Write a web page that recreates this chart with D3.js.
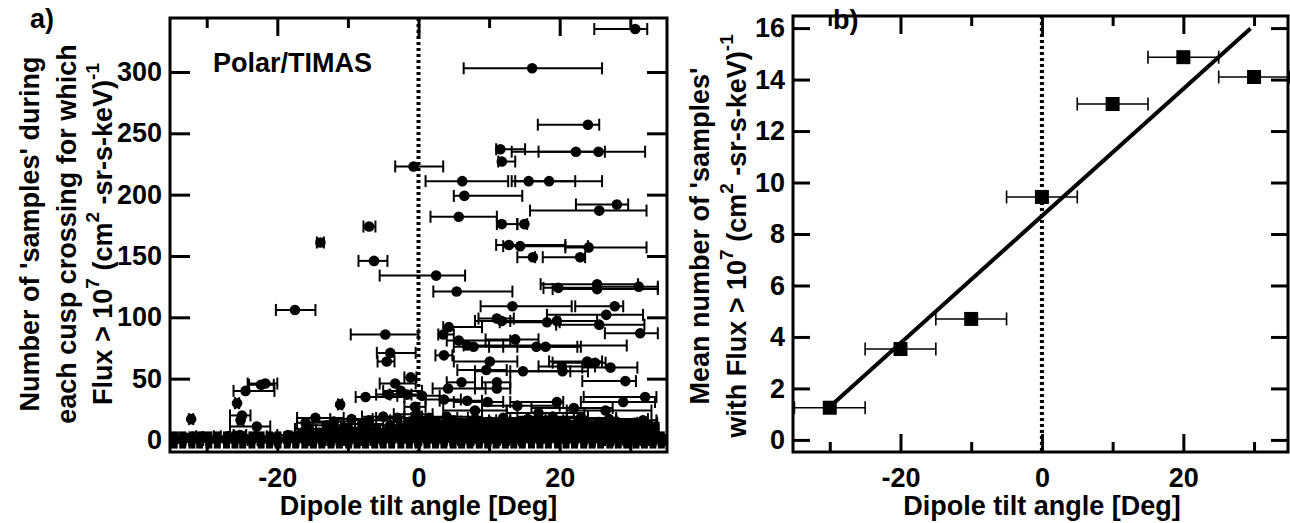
<!DOCTYPE html>
<html>
<head>
<meta charset="utf-8">
<script src="https://cdn.jsdelivr.net/npm/d3@7"></script>
<style>
  body { margin: 0; background: #fff; }
  svg text { font-family: "Liberation Sans", Arial, Helvetica, sans-serif; font-weight: bold; fill: #000; }
</style>
</head>
<body>
<svg id="chart" width="1290" height="523"></svg>
<script>
/* * * * * * * * * * * * * * * * * * * * * *
*   Cusp crossings vs dipole tilt (a, b)   *
* * * * * * * * * * * * * * * * * * * * * */

// panel a: one row per cusp crossing -> [tilt, samples, tiltMin, tiltMax]
const upperCrossings = [
    [30.7, 335, 24.9, 32.4], [16.1, 303, 6.4, 26.0], [24.0, 257, 16.9, 25.6],
    [11.6, 237, 11.0, 15.1], [22.3, 235, 13.2, 26.4], [25.5, 235, 17.0, 32.1],
    [11.8, 227, 11.3, 13.7], [-0.7, 223, -3.3, 3.5], [6.2, 211, 1.0, 12.7],
    [15.6, 211, 13.2, 22.2], [18.5, 211, 13.7, 26.0], [6.5, 199, 5.0, 14.7],
    [28.1, 192, 22.3, 29.7], [25.6, 187, 15.8, 32.3], [5.7, 182, 1.7, 11.1],
    [11.8, 176, 11.1, 14.0], [15.0, 176, 14.0, 15.4], [-7.0, 174, -7.8, -6.1],
    [-13.9, 161, -14.4, -13.4], [12.8, 159, 11.0, 20.8], [14.4, 158, 12.0, 24.0],
    [24.1, 157, 20.8, 32.3], [16.2, 149, 14.0, 16.5], [22.9, 149, 17.6, 23.6],
    [-6.3, 146, -8.5, -4.4], [2.5, 134, -5.5, 6.6], [19.8, 124, 17.7, 25.3],
    [25.3, 127, 17.3, 31.1], [25.3, 123, 19.0, 33.9], [31.2, 125, 25.0, 33.9],
    [5.4, 121, 2.1, 13.3], [-17.5, 106, -20.2, -14.6], [13.3, 109, 8.8, 21.7],
    [27.8, 109, 22.2, 29.0], [26.6, 102, 18.2, 31.8]
];

const midCrossings = [
    [11.8, 97, 8.0, 19.5], [18.2, 96, 11.5, 20.0], [19.6, 97, 13.0, 25.3],
    [25.6, 94, 19.5, 32.0], [11.1, 99, 8.5, 13.5], [4.3, 92, 3.5, 9.0],
    [31.4, 87, 26.4, 33.9], [-4.7, 86, -9.6, 0.0], [3.5, 86, 2.8, 5.0],
    [5.7, 81, 4.0, 13.0], [13.7, 82, 9.5, 17.0], [6.9, 77, 6.4, 29.5],
    [7.8, 76, 5.0, 12.0], [16.7, 76, 10.0, 23.0], [18.0, 76, 14.0, 22.5],
    [-4.0, 71, -5.9, -0.4], [3.6, 69, 2.4, 4.8], [-4.5, 64, -5.8, -3.4],
    [10.1, 64, 5.0, 14.0], [23.9, 64, 18.5, 26.0], [25.0, 63, 19.0, 26.5],
    [20.3, 60, 17.0, 25.0], [27.2, 59, 23.2, 31.0], [9.6, 57, 5.5, 12.5],
    [14.8, 56, 8.0, 24.0], [20.4, 56, 13.0, 21.5], [-1.1, 51, -2.0, -0.3],
    [29.3, 48, 23.2, 30.8], [11.1, 47, 9.0, 13.0], [6.1, 47, 4.0, 8.0],
    [-21.7, 46, -24.2, -20.0], [-22.3, 45, -24.0, -20.5], [-3.3, 46, -5.5, -0.4],
    [4.2, 42, 2.0, 9.5], [11.1, 42, 8.0, 13.0], [-24.5, 40, -26.2, -20.4],
    [-2.5, 40, -5.0, 0.5], [-7.5, 35, -8.9, -2.0], [-4.2, 37, -6.0, -1.0],
    [-1.6, 37, -4.0, 0.5], [32.1, 35, 23.4, 33.7], [0.5, 36, -3.0, 3.0],
    [-25.7, 30, -26.0, -25.4], [-11.1, 29, -11.4, -10.8], [29.0, 31, 23.0, 33.5],
    [19.6, 31, 13.0, 20.5], [9.8, 31, 5.0, 12.0], [6.9, 32, 3.0, 9.0],
    [3.6, 33, 1.0, 6.0], [-0.5, 27, -2.0, 1.0], [-25.0, 20, -26.7, -23.8],
    [-25.2, 16, -25.6, -24.8], [-32.2, 17, -32.5, -31.9], [-22.9, 11, -26.7, -21.0],
    [-14.6, 18, -17.2, -10.6], [14.0, 28, 9.0, 20.0], [22.0, 26, 16.0, 27.5],
    [26.5, 24, 21.0, 33.0], [17.0, 22, 12.5, 23.5], [8.0, 24, 3.5, 12.5]
];

// the crowded band near zero samples
const lowCrossings = [
    [0.6, 3, -2.0, 4.5], [1.9, 2, -1.0, 6.0], [3.1, 4, 0.0, 7.5], [4.4, 2, 1.0, 9.0],
    [5.8, 3, 2.5, 10.5], [7.0, 2, 3.0, 12.0], [8.3, 4, 4.5, 13.5], [9.5, 2, 5.0, 15.0],
    [10.9, 3, 6.5, 16.0], [12.2, 2, 8.0, 17.5], [13.4, 4, 9.0, 19.0], [14.8, 2, 10.5, 20.0],
    [16.0, 3, 11.5, 21.5], [17.3, 2, 13.0, 22.5], [18.6, 4, 14.0, 24.0], [19.9, 2, 15.5, 25.5],
    [21.2, 3, 16.5, 27.0], [22.4, 2, 18.0, 28.0], [23.8, 4, 19.0, 29.5], [25.1, 2, 20.5, 31.0],
    [26.3, 3, 21.5, 32.0], [27.6, 2, 23.0, 33.0], [28.9, 4, 24.5, 33.5], [30.2, 2, 26.0, 33.8],
    [31.5, 3, 27.5, 33.9], [32.8, 2, 29.5, 34.0],
    [0.2, 7, -3.0, 3.5], [1.4, 6, -1.5, 5.0], [2.7, 8, -0.5, 6.5], [4.0, 6, 0.5, 8.0],
    [5.2, 7, 1.5, 9.5], [6.5, 8, 3.0, 11.0], [7.8, 6, 4.0, 12.5], [9.0, 7, 5.0, 14.0],
    [10.3, 8, 6.5, 15.0], [11.6, 6, 7.5, 16.5], [12.9, 7, 9.0, 18.0], [14.1, 8, 10.0, 19.0],
    [15.4, 6, 11.0, 20.5], [16.7, 7, 12.5, 22.0], [18.0, 8, 13.5, 23.0], [19.2, 6, 15.0, 24.5],
    [20.5, 7, 16.0, 26.0], [21.8, 8, 17.0, 27.0], [23.1, 6, 18.5, 28.5], [24.4, 7, 19.5, 30.0],
    [25.7, 8, 21.0, 31.0], [27.0, 6, 22.5, 32.0], [28.2, 7, 23.5, 33.0], [29.5, 8, 25.0, 33.5],
    [30.8, 6, 26.5, 33.8], [32.1, 7, 28.0, 33.9],
    [0.9, 11, -2.5, 5.0], [2.2, 12, -1.0, 6.0], [3.5, 10, 0.0, 8.0], [4.8, 13, 1.0, 9.0],
    [6.0, 11, 2.0, 10.0], [7.3, 10, 3.5, 12.0], [8.6, 12, 4.5, 13.0], [9.9, 11, 6.0, 14.5],
    [11.1, 13, 7.0, 16.0], [12.4, 10, 8.5, 17.0], [13.7, 12, 9.5, 18.5], [15.0, 11, 10.5, 19.5],
    [16.2, 13, 12.0, 21.0], [17.5, 10, 13.0, 22.0], [18.8, 12, 14.0, 23.5], [20.1, 11, 15.5, 25.0],
    [21.3, 13, 16.5, 26.0], [22.6, 10, 18.0, 27.5], [23.9, 12, 19.0, 29.0], [25.2, 11, 20.5, 30.0],
    [26.5, 10, 21.5, 31.5], [27.8, 12, 23.0, 32.5], [29.1, 11, 24.5, 33.0], [30.4, 10, 26.0, 33.5],
    [31.7, 12, 27.5, 33.8], [32.9, 10, 29.0, 34.0],
    [0.3, 15, -2.0, 4.0], [1.0, 5, -2.5, 5.5], [2.5, 14, -0.5, 7.0], [3.8, 9, 0.5, 8.5],
    [5.0, 16, 1.5, 10.0], [6.4, 5, 2.5, 11.0], [7.6, 14, 3.5, 12.0], [8.9, 9, 4.5, 14.0],
    [10.1, 15, 6.0, 15.5], [11.5, 5, 7.0, 17.0], [12.7, 14, 8.5, 18.0], [14.0, 9, 9.5, 19.5],
    [15.3, 16, 11.0, 20.5], [16.5, 5, 12.0, 22.0], [17.8, 15, 13.0, 23.0], [19.1, 9, 14.5, 24.5],
    [20.3, 14, 15.5, 25.5], [21.6, 5, 17.0, 27.0], [22.9, 15, 18.0, 28.0], [24.2, 9, 19.5, 29.5],
    [25.5, 14, 20.5, 31.0], [26.8, 5, 22.0, 32.0], [28.0, 15, 23.5, 33.0], [29.3, 9, 25.0, 33.5],
    [30.6, 14, 26.5, 33.8], [31.9, 5, 28.0, 33.9], [33.1, 8, 30.0, 34.0],
    [1.5, 18, -1.0, 5.5], [4.0, 19, 0.5, 9.0], [8.0, 17, 4.0, 13.0], [12.0, 18, 7.0, 17.0],
    [15.5, 17, 12.0, 21.0], [19.0, 19, 14.0, 24.0], [23.0, 18, 18.0, 28.0], [27.0, 17, 22.0, 32.5],
    [31.8, 16, 28.0, 33.7],
    [-16.8, 3, -18.0, -14.0], [-15.4, 5, -17.0, -12.5], [-14.1, 2, -16.5, -11.0], [-12.8, 4, -15.0, -10.0],
    [-11.5, 3, -14.0, -8.5], [-10.2, 5, -13.0, -7.0], [-8.9, 2, -11.5, -6.0], [-7.6, 4, -10.0, -5.0],
    [-6.3, 3, -9.0, -3.5], [-5.0, 6, -8.0, -2.0], [-3.7, 3, -6.5, -1.0], [-2.4, 5, -5.0, 0.5],
    [-1.1, 3, -4.0, 1.5],
    [-16.2, 7, -17.5, -13.0], [-14.0, 6, -16.5, -11.5], [-11.8, 8, -14.5, -9.0], [-9.6, 7, -12.0, -7.0],
    [-7.2, 8, -10.5, -4.5], [-4.6, 7, -7.5, -2.0], [-2.8, 8, -5.5, 0.0], [-0.8, 7, -3.5, 1.5],
    [-15.5, 9, -17.5, -12.5], [-13.0, 12, -16.0, -9.5], [-10.5, 10, -13.5, -7.0], [-8.0, 13, -11.0, -5.0],
    [-6.0, 9, -9.0, -3.0], [-4.0, 12, -7.0, -1.0], [-2.0, 10, -4.5, 0.5], [-0.5, 13, -3.0, 1.5],
    [-16.0, 14, -17.2, -12.0], [-12.0, 15, -15.0, -9.0], [-9.5, 17, -12.5, -6.5], [-7.0, 16, -9.5, -4.0],
    [-5.0, 19, -8.0, -2.0], [-3.0, 18, -6.0, 0.0], [-1.2, 15, -4.0, 1.0], [-0.3, 21, -3.5, 2.0],
    [-27.0, 3, -28.0, -26.0], [-25.3, 4, -26.2, -24.4], [-20.5, 2, -21.5, -19.0],
    [-33.0, 2, -34.0, -32.0], [-30.5, 3, -31.5, -29.0], [-23.0, 3, -24.5, -21.5], [-18.5, 4, -20.0, -17.0]
];

// crossings with no samples above the flux threshold
const zeroCrossings = [
    [-34.6, 0, -35.2, -33.5], [-33.4, 0, -34.5, -32.0], [-32.1, 0, -33.0, -31.0], [-31.0, 0, -32.5, -29.8],
    [-29.7, 0, -30.5, -28.6], [-28.5, 0, -30.0, -27.0], [-27.2, 0, -28.4, -26.1], [-26.0, 0, -27.5, -24.2],
    [-24.9, 0, -26.0, -23.8], [-23.6, 0, -25.0, -22.0], [-22.3, 0, -23.5, -21.0], [-21.1, 0, -22.8, -19.6],
    [-19.9, 0, -21.0, -18.2], [-18.6, 0, -20.4, -17.0], [-17.4, 0, -18.8, -15.8], [-16.1, 0, -17.6, -14.5],
    [-14.9, 0, -16.2, -13.2], [-13.7, 0, -15.5, -12.0], [-12.4, 0, -13.8, -10.6], [-11.2, 0, -12.9, -9.5],
    [-9.9, 0, -11.6, -8.0], [-8.7, 0, -10.4, -6.8], [-7.5, 0, -9.6, -5.4], [-6.2, 0, -8.1, -4.0],
    [-5.0, 0, -7.2, -2.6], [-3.8, 0, -6.0, -1.5], [-2.5, 0, -4.8, 0.2], [-1.3, 0, -3.6, 1.4],
    [-0.1, 0, -2.5, 2.8], [1.2, 0, -1.6, 4.0], [2.4, 0, -0.5, 5.6], [3.6, 0, 0.4, 7.0],
    [4.9, 0, 1.5, 8.6], [6.1, 0, 2.4, 10.0], [7.3, 0, 3.6, 11.5], [8.6, 0, 4.5, 12.8],
    [9.8, 0, 5.8, 14.2], [11.0, 0, 6.5, 15.8], [12.3, 0, 7.8, 17.0], [13.5, 0, 9.0, 18.4],
    [14.7, 0, 10.2, 19.8], [16.0, 0, 11.5, 21.0], [17.2, 0, 12.6, 22.5], [18.4, 0, 13.8, 23.6],
    [19.7, 0, 15.0, 25.0], [20.9, 0, 16.2, 26.4], [22.1, 0, 17.5, 27.6], [23.4, 0, 18.6, 29.0],
    [24.6, 0, 19.8, 30.2], [25.8, 0, 21.0, 31.4], [27.1, 0, 22.4, 32.6], [28.3, 0, 23.8, 33.6],
    [29.5, 0, 25.0, 34.0], [30.8, 0, 26.4, 34.2], [32.0, 0, 28.0, 34.4], [33.2, 0, 30.0, 34.6],
    [34.4, 0, 32.0, 35.0]
];
// spread in samples shown on the zero-sample crossings
const zeroSampleErr = 7;

// panel b: binned means
const binTilt = [-30, -20, -10, 0, 10, 20, 30];
const binMeanSamples = [1.25, 3.53, 4.70, 9.44, 13.05, 14.87, 14.1];
const binHalfWidth = 5;
const fitSlope = 0.247;
const fitIntercept = 8.7;
const fitTiltRange = [-30, 29.5];

// ticks
const tiltMajorTicks = [-20, 0, 20];
const tiltMinorTicks = [-30, -10, 10, 30];
const samplesTicks = [0, 50, 100, 150, 200, 250, 300];
const meanTicks = [0, 2, 4, 6, 8, 10, 12, 14, 16];

const FONT = 27;
const SUP = 19;
const svg = d3.select("#chart");
const plain = d => String(d);   // hyphen minus, as in the figure

// draws the four-sided inward tick frame of a panel
function drawFrame(box, x, y, yTicks, yTickLen, yPad) {
    let g = svg.append("g");

    let style = sel => {
        sel.select(".domain").remove();
        sel.selectAll("line").attr("stroke-width", 3);
        sel.attr("font-size", FONT).attr("font-family", null);
    };

    g.append("g").attr("transform", `translate(0,${box.bottom})`)
        .call(d3.axisBottom(x).tickValues(tiltMajorTicks).tickSizeInner(-18).tickSizeOuter(0)
            .tickPadding(16).tickFormat(plain))
        .call(style);
    g.append("g").attr("transform", `translate(0,${box.bottom})`)
        .call(d3.axisBottom(x).tickValues(tiltMinorTicks).tickSizeInner(-10).tickSizeOuter(0).tickFormat(""))
        .call(style);
    g.append("g").attr("transform", `translate(0,${box.top})`)
        .call(d3.axisTop(x).tickValues(tiltMajorTicks).tickSizeInner(-18).tickSizeOuter(0).tickFormat(""))
        .call(style);
    g.append("g").attr("transform", `translate(0,${box.top})`)
        .call(d3.axisTop(x).tickValues(tiltMinorTicks).tickSizeInner(-10).tickSizeOuter(0).tickFormat(""))
        .call(style);
    g.append("g").attr("transform", `translate(${box.left},0)`)
        .call(d3.axisLeft(y).tickValues(yTicks).tickSizeInner(-yTickLen).tickSizeOuter(0)
            .tickPadding(yPad).tickFormat(plain))
        .call(style);
    g.append("g").attr("transform", `translate(${box.right},0)`)
        .call(d3.axisRight(y).tickValues(yTicks).tickSizeInner(-yTickLen).tickSizeOuter(0).tickFormat(""))
        .call(style);

    g.append("rect")
        .attr("x", box.left).attr("y", box.top)
        .attr("width", box.right - box.left).attr("height", box.bottom - box.top)
        .attr("fill", "none").attr("stroke", "black").attr("stroke-width", 3);

    // zero tilt reference
    g.append("line")
        .attr("x1", x(0)).attr("x2", x(0))
        .attr("y1", box.top).attr("y2", box.bottom)
        .attr("stroke", "black").attr("stroke-width", 4)
        .attr("stroke-dasharray", "3,3");
}

// rotated y title, parts: [text, isSuperscript]
function yTitle(xBase, yCenter, parts) {
    let t = svg.append("text")
        .attr("transform", `translate(${xBase},${yCenter}) rotate(-90)`)
        .attr("text-anchor", "middle")
        .attr("font-size", FONT);
    let raised = false;
    parts.forEach(([txt, sup]) => {
        let dy = 0;
        if (sup && !raised) { dy = -13; raised = true; }
        if (!sup && raised) { dy = 13; raised = false; }
        t.append("tspan").attr("dy", dy).attr("font-size", sup ? SUP : FONT).text(txt);
    });
}

function xTitle(xCenter) {
    svg.append("text")
        .attr("x", xCenter).attr("y", 515)
        .attr("text-anchor", "middle")
        .attr("font-size", FONT)
        .text("Dipole tilt angle [Deg]");
}

const fluxParts = [["Flux > 10", false], ["7", true], [" (cm", false], ["2", true],
    [" -sr-s-keV)", false], ["-1", true]];

/* ---------- panel a ---------- */
const boxA = { left: 170, top: 18, right: 667, bottom: 452 };
const xA = d3.scaleLinear().domain([-35.2, 35.2]).range([boxA.left, boxA.right]);
const yA = d3.scaleLinear().domain([-9.8, 344]).range([boxA.bottom, boxA.top]);

svg.append("clipPath").attr("id", "clipA")
    .append("rect")
    .attr("x", boxA.left).attr("y", boxA.top)
    .attr("width", boxA.right - boxA.left).attr("height", boxA.bottom - boxA.top);

const crossings = zeroCrossings.concat(lowCrossings, midCrossings, upperCrossings);
let marksA = svg.append("g").attr("clip-path", "url(#clipA)");

// vertical spread on the zero-sample crossings
marksA.selectAll(".spread").data(zeroCrossings).enter().append("line")
    .attr("class", "spread")
    .attr("x1", d => xA(d[0])).attr("x2", d => xA(d[0]))
    .attr("y1", d => yA(d[1] - zeroSampleErr)).attr("y2", d => yA(d[1] + zeroSampleErr))
    .attr("stroke", "black").attr("stroke-width", 7);

let barsA = marksA.selectAll(".bar").data(crossings).enter().append("g").attr("class", "bar");
barsA.append("line")
    .attr("x1", d => xA(d[2])).attr("x2", d => xA(d[3]))
    .attr("y1", d => yA(d[1])).attr("y2", d => yA(d[1]))
    .attr("stroke", "black").attr("stroke-width", 2);
barsA.append("line")
    .attr("x1", d => xA(d[2])).attr("x2", d => xA(d[2]))
    .attr("y1", d => yA(d[1]) - 6).attr("y2", d => yA(d[1]) + 6)
    .attr("stroke", "black").attr("stroke-width", 2);
barsA.append("line")
    .attr("x1", d => xA(d[3])).attr("x2", d => xA(d[3]))
    .attr("y1", d => yA(d[1]) - 6).attr("y2", d => yA(d[1]) + 6)
    .attr("stroke", "black").attr("stroke-width", 2);

marksA.selectAll(".dot").data(crossings).enter().append("circle")
    .attr("class", "dot")
    .attr("cx", d => xA(d[0])).attr("cy", d => yA(d[1]))
    .attr("r", 5.3)
    .attr("fill", "black");

drawFrame(boxA, xA, yA, samplesTicks, 20, 8);

svg.append("text").attr("x", 213).attr("y", 72).attr("font-size", FONT).text("Polar/TIMAS");
svg.append("text").attr("x", 30).attr("y", 28).attr("font-size", FONT).text("a)");

yTitle(39, 234, [["Number of 'samples' during", false]]);
yTitle(76, 234, [["each cusp crossing for which", false]]);
yTitle(112, 234, fluxParts);
xTitle(xA(0));

/* ---------- panel b ---------- */
const boxB = { left: 793, top: 16, right: 1288, bottom: 452 };
const xB = d3.scaleLinear().domain([-35.2, 34.8]).range([boxB.left, boxB.right]);
const yB = d3.scaleLinear().domain([-0.47, 16.47]).range([boxB.bottom, boxB.top]);

const bins = binTilt.map((t, i) => ({ tilt: t, mean: binMeanSamples[i] }));
let marksB = svg.append("g");

let barsB = marksB.selectAll(".bar").data(bins).enter().append("g").attr("class", "bar");
barsB.append("line")
    .attr("x1", d => xB(d.tilt - binHalfWidth)).attr("x2", d => xB(d.tilt + binHalfWidth))
    .attr("y1", d => yB(d.mean)).attr("y2", d => yB(d.mean))
    .attr("stroke", "black").attr("stroke-width", 1.6);
[-1, 1].forEach(s => {
    barsB.append("line")
        .attr("x1", d => xB(d.tilt + s * binHalfWidth)).attr("x2", d => xB(d.tilt + s * binHalfWidth))
        .attr("y1", d => yB(d.mean) - 6.5).attr("y2", d => yB(d.mean) + 6.5)
        .attr("stroke", "black").attr("stroke-width", 1.6);
});

// linear fit
const fitLine = d3.line().x(d => xB(d)).y(d => yB(fitIntercept + fitSlope * d));
marksB.append("path")
    .attr("d", fitLine(fitTiltRange))
    .attr("fill", "none").attr("stroke", "black").attr("stroke-width", 4);

marksB.selectAll(".sq").data(bins).enter().append("rect")
    .attr("class", "sq")
    .attr("x", d => xB(d.tilt) - 7).attr("y", d => yB(d.mean) - 7)
    .attr("width", 14).attr("height", 14)
    .attr("fill", "black");

drawFrame(boxB, xB, yB, meanTicks, 17, 8);

svg.append("text").attr("x", 833).attr("y", 29).attr("font-size", FONT).text("b)");

yTitle(709, 236, [["Mean number of 'samples'", false]]);
yTitle(746, 236, [["with ", false]].concat(fluxParts));
xTitle(xB(0));
</script>
</body>
</html>
